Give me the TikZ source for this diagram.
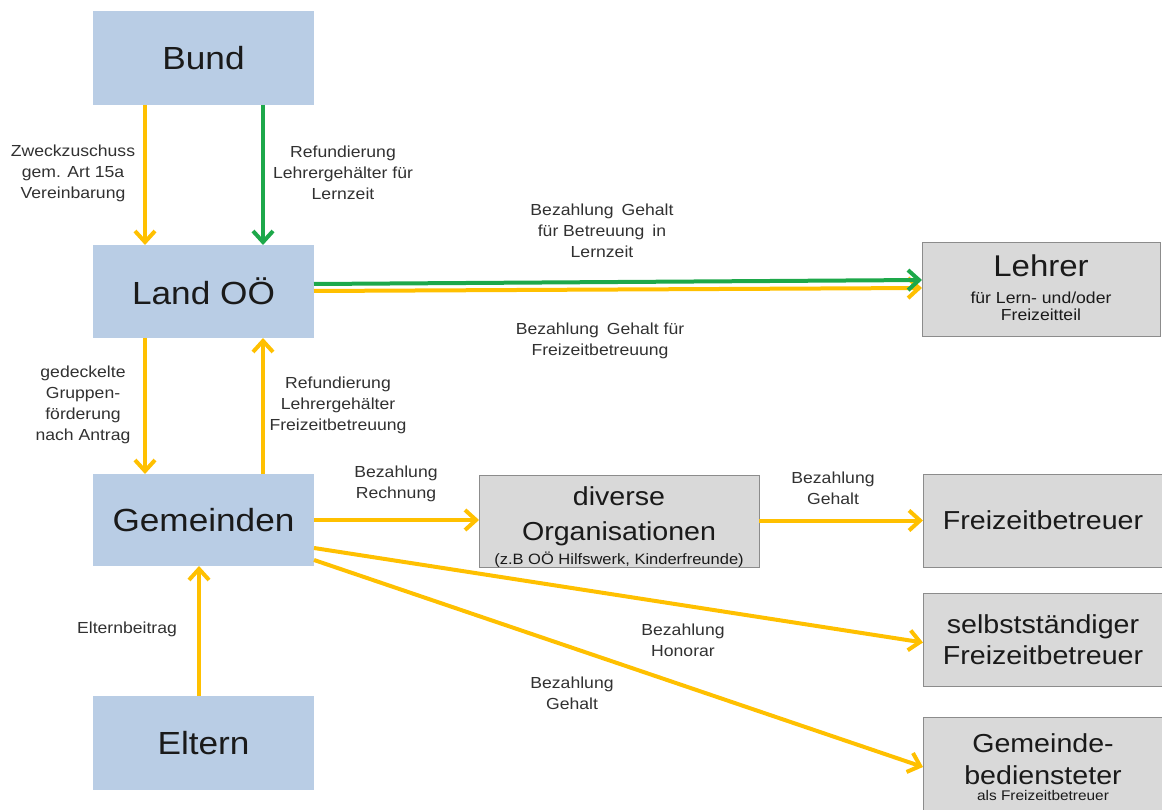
\documentclass[tikz,border=0pt]{standalone}
\usepackage{fontspec}
\setmainfont[FakeStretch=1.1]{Liberation Sans}
\usetikzlibrary{arrows.meta}
\definecolor{boxblue}{HTML}{B9CDE5}
\definecolor{boxgrey}{HTML}{D9D9D9}
\definecolor{boxedge}{HTML}{8C8C8C}
\definecolor{flowyellow}{HTML}{FFC000}
\definecolor{flowgreen}{HTML}{1DA84A}
\definecolor{txt}{HTML}{1A1A1A}
\begin{document}
\begin{tikzpicture}[x=1pt,y=-1pt,
  bluebox/.style={fill=boxblue, draw=none, minimum width=221pt, outer sep=0pt, inner sep=0pt,
     text=txt, font=\fontsize{32}{38}\selectfont},
  greybox/.style={fill=boxgrey, draw=boxedge, line width=0.8pt, outer sep=0pt, inner sep=0pt,
     text=txt, align=center},
  boxtxt/.style={text=txt, inner sep=0pt, anchor=base},
  lab/.style={text=txt!90, align=center, inner sep=0pt, font=\fontsize{16}{21}\selectfont},
  ya/.style={draw=flowyellow, line width=4pt, -{Straight Barb[length=11pt,width=20pt]}},
  ga/.style={draw=flowgreen, line width=4pt, -{Straight Barb[length=11pt,width=20pt]}}
]
\useasboundingbox (0,0) rectangle (1162,810);
\clip (0,0) rectangle (1162,810);

% blue boxes
\node[bluebox, minimum height=94pt] (bund) at (203.5,58) {Bund};
\node[bluebox, minimum height=93pt] (land) at (203.5,291.5) {Land OÖ};
\node[bluebox, minimum height=92pt] (gem) at (203.5,520) {Gemeinden};
\node[bluebox, minimum height=94pt] (elt) at (203.5,743) {Eltern};

% grey boxes
\node[greybox, minimum width=238pt, minimum height=94pt] (lehrer) at (1041,289) {};
\node[boxtxt, font=\fontsize{30}{30}\selectfont] (lehrer1) at (1041,277) {Lehrer};
\node[boxtxt, font=\fontsize{16}{16}\selectfont] (lehrer2) at (1041,304) {für Lern- und/oder};
\node[boxtxt, font=\fontsize{16}{16}\selectfont] (lehrer3) at (1041,320) {Freizeitteil};

\node[greybox, minimum width=280pt, minimum height=92pt] (div) at (619,521) {};
\node[boxtxt, font=\fontsize{26}{26}\selectfont] (div1) at (619,505) {diverse};
\node[boxtxt, font=\fontsize{26}{26}\selectfont] (div2) at (619,540) {Organisationen};
\node[boxtxt, font=\fontsize{15}{15}\selectfont] (div3) at (619,564) {(z.B OÖ Hilfswerk, Kinderfreunde)};

\node[greybox, minimum width=240pt, minimum height=93pt, font=\fontsize{26}{31}\selectfont] (fzb) at (1043,520.5)
  {Freizeitbetreuer};
\node[greybox, minimum width=240pt, minimum height=93pt, font=\fontsize{26}{31}\selectfont] (selb) at (1043,639.5)
  {selbstständiger\\Freizeitbetreuer};

\node[greybox, minimum width=240pt, minimum height=96pt] (gbed) at (1043,765) {};
\node[boxtxt, font=\fontsize{26}{26}\selectfont] (gbed1) at (1043,752) {Gemeinde-};
\node[boxtxt, font=\fontsize{26}{26}\selectfont] (gbed2) at (1043,784) {bediensteter};
\node[boxtxt, font=\fontsize{14}{14}\selectfont] (gbed3) at (1043,800) {als Freizeitbetreuer};

% connectors
\draw[ya] (bund.south -| 145,0) -- (land.north -| 145,0);
\draw[ga] (bund.south -| 263,0) -- (land.north -| 263,0);
\draw[ya] ([yshift=0.5pt]land.east) -- ([yshift=1pt]lehrer.west);
\draw[ga] ([yshift=7.5pt]land.east) -- ([yshift=9pt]lehrer.west);
\draw[ya] (land.south -| 145,0) -- (gem.north -| 145,0);
\draw[ya] (gem.north -| 263,0) -- (land.south -| 263,0);
\draw[ya] (elt.north -| 199,0) -- (gem.south -| 199,0);
\draw[ya] (gem.east) -- (div.west |- gem.east);
\draw[ya] (div.east |- fzb.west) -- (fzb.west);
\draw[ya] ([yshift=-28pt]gem.east) -- ([yshift=-3pt]selb.west);
\draw[ya] ([yshift=-40pt]gem.east) -- ([yshift=-2pt]gbed.west);

% labels
\node[lab] (l1) at (73,173) {Zweckzuschuss\\gem. Art 15a\\Vereinbarung};
\node[lab] (l2) at (343,173) {Refundierung\\Lehrergehälter für\\Lernzeit};
\node[lab] (l3) at (602,231) {Bezahlung\enspace Gehalt\\für Betreuung\enspace in\\Lernzeit};
\node[lab] (l4) at (600,341) {Bezahlung\enspace Gehalt für\\Freizeitbetreuung};
\node[lab] (l5) at (83,405) {gedeckelte\\Gruppen-\\förderung\\nach Antrag};
\node[lab] (l6) at (338,405) {Refundierung\\Lehrergehälter\\Freizeitbetreuung};
\node[lab] (l7) at (127,629) {Elternbeitrag};
\node[lab] (l8) at (396,484) {Bezahlung\\Rechnung};
\node[lab] (l9) at (833,488) {Bezahlung\\Gehalt};
\node[lab] (l10) at (683,640) {Bezahlung\\Honorar};
\node[lab] (l11) at (572,693) {Bezahlung\\Gehalt};
\end{tikzpicture}
\end{document}
